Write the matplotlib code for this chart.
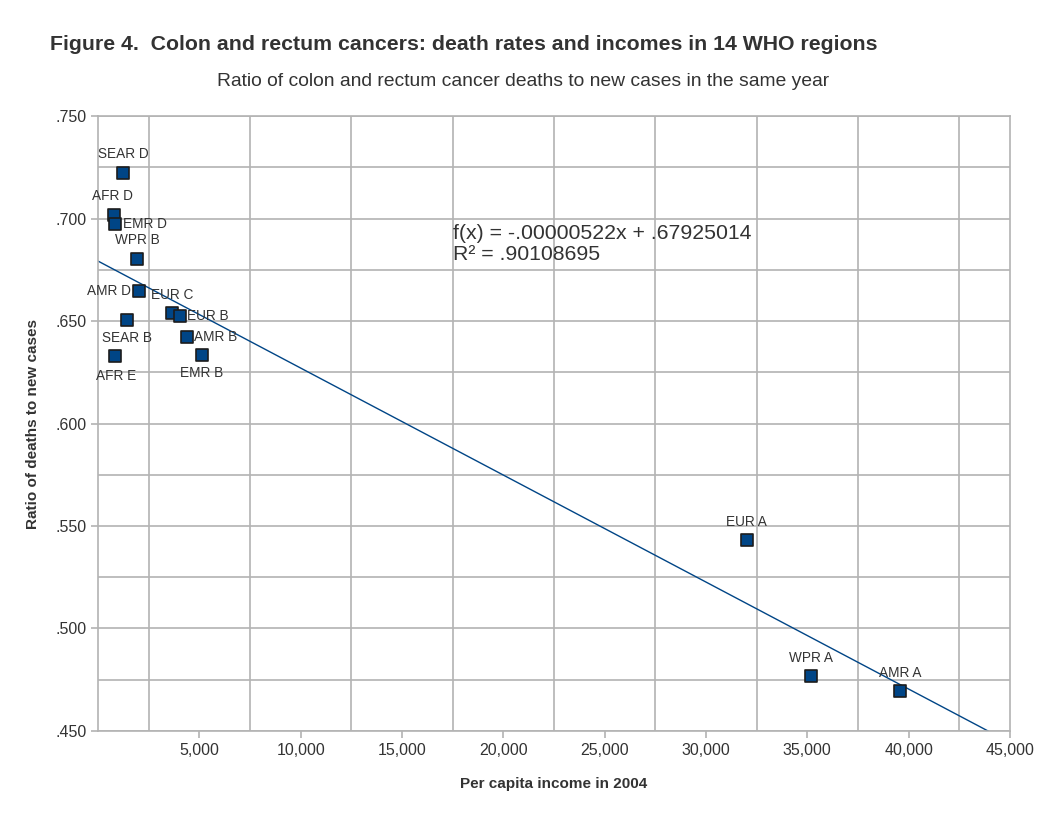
import numpy as np
import matplotlib.pyplot as plt
from matplotlib.ticker import MultipleLocator, FixedLocator, FuncFormatter

plt.rcParams['font.family'] = ['Liberation Sans', 'DejaVu Sans']

# datos: region, ingreso per capita 2004, razon muertes / casos nuevos
regiones = ["SEAR D", "AFR D", "EMR D", "WPR B", "AMR D", "EUR C", "EUR B",
            "SEAR B", "AMR B", "EMR B", "AFR E", "EUR A", "WPR A", "AMR A"]
ingreso = [1230, 790, 840, 1920, 2020, 3650, 4050,
           1430, 4390, 5130, 840, 32000, 35180, 39570]
razon = [.7222, .7017, .6973, .6802, .6646, .6539, .6524,
         .6505, .6422, .6334, .6329, .5432, .4768, .4695]

# recta de tendencia (del texto del grafico)
pendiente = -0.00000522
intercepto = 0.67925014

azul = "#004586"
gris_texto = "#333333"

fig = plt.figure(figsize=(10.56, 8.16), dpi=100)
ax = fig.add_axes([0.0928, 0.1042, 0.8636, 0.7536])

ax.set_xlim(0, 45000)
ax.set_ylim(0.45, 0.75)

# recta
x_fin = (0.45 - intercepto) / pendiente
xs = np.array([0, x_fin])
ax.plot(xs, pendiente * xs + intercepto, color=azul, lw=1, zorder=2)

ax.scatter(ingreso, razon, marker="s", s=75, color=azul,
           edgecolor="#1c1c1c", linewidth=1.2, zorder=3)

# posicion de las etiquetas (offset en puntos)
offsets = {
    "SEAR D": (0, 9, "center", "bottom"),
    "AFR D": (-1, 9, "center", "bottom"),
    "EMR D": (6, 0, "left", "center"),
    "WPR B": (0, 9, "center", "bottom"),
    "AMR D": (-6, 0, "right", "center"),
    "EUR C": (0, 8, "center", "bottom"),
    "EUR B": (5, 0, "left", "center"),
    "SEAR B": (0, -8, "center", "top"),
    "AMR B": (5, 0, "left", "center"),
    "EMR B": (0, -8, "center", "top"),
    "AFR E": (1, -9, "center", "top"),
    "EUR A": (0, 8, "center", "bottom"),
    "WPR A": (0, 8, "center", "bottom"),
    "AMR A": (0, 8, "center", "bottom"),
}
for r, x, y in zip(regiones, ingreso, razon):
    dx, dy, ha, va = offsets[r]
    ax.annotate(r, (x, y), xytext=(dx, dy), textcoords="offset points",
                ha=ha, va=va, fontsize=9.8, color=gris_texto, zorder=4)

ax.text(17500, 0.6875, "f(x) = -.00000522x + .67925014\nR² = .90108695",
        fontsize=15.3, color=gris_texto, va="center", ha="left", linespacing=1.1)

# ejes y rejilla
ax.xaxis.set_major_locator(FixedLocator(np.arange(5000, 45001, 5000)))
ax.xaxis.set_minor_locator(FixedLocator(np.arange(2500, 45000, 5000)))
ax.xaxis.set_major_formatter(FuncFormatter(lambda v, p: f"{int(v):,}"))
ax.yaxis.set_major_locator(MultipleLocator(0.05))
ax.yaxis.set_minor_locator(MultipleLocator(0.025))
ax.yaxis.set_major_formatter(FuncFormatter(lambda v, p: f"{v:.3f}".lstrip("0")))

ax.grid(which="minor", axis="x", color="#b3b3b3", lw=1.2)
ax.grid(which="both", axis="y", color="#b3b3b3", lw=1.2)
ax.set_axisbelow(True)
for s in ax.spines.values():
    s.set_color("#b3b3b3")
    s.set_linewidth(1.2)

ax.tick_params(which="major", axis="both", colors="#b3b3b3", labelcolor=gris_texto,
               labelsize=11.5, length=5, width=1.2)
ax.tick_params(which="minor", length=0)
ax.tick_params(axis="y", pad=3)

ax.set_xlabel("Per capita income in 2004", fontsize=11, fontweight="bold",
              color=gris_texto, labelpad=14)
ax.set_ylabel("Ratio of deaths to new cases", fontsize=11, fontweight="bold",
              color=gris_texto, labelpad=11)

fig.text(50/1056, 1 - 45/816, "Figure 4.  Colon and rectum cancers: death rates and incomes in 14 WHO regions",
         fontsize=15.3, fontweight="bold", color=gris_texto, ha="left", va="center")
fig.text(523/1056, 1 - 81/816, "Ratio of colon and rectum cancer deaths to new cases in the same year",
         fontsize=13.9, color=gris_texto, ha="center", va="center")

fig.savefig("out.png", dpi=100)
